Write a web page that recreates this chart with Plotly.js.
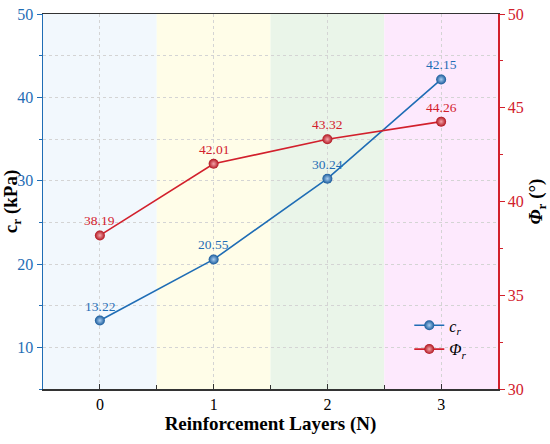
<!DOCTYPE html>
<html><head><meta charset="utf-8">
<script src="https://cdn.plot.ly/plotly-3.0.1.min.js"></script>
<style>html,body{margin:0;padding:0;background:#fff}#chart{width:550px;height:444px}</style>
</head><body><div id="chart"></div>
<script>
const layers = [0, 1, 2, 3];
const layerLabels = ['0', '1', '2', '3'];
const cohesion = [13.22, 20.55, 30.24, 42.15];
const friction = [38.19, 42.01, 43.32, 44.26];
const bandColors = ['#f2f8fd', '#fffde8', '#eaf5e9', '#fde9fd'];

const blue = '#1f6db5';
const red = '#d2202c';
const font = 'Liberation Serif, Times New Roman, serif';

const traces = [
  {x: layers, y: cohesion, yaxis: 'y', name: '<i>c<sub>r</sub></i>', mode: 'lines+markers',
   line: {color: blue, width: 1.6},
   marker: {size: 10, color: '#17599a', gradient: {type: 'radial', color: '#a9cdf0'}, line: {width: 0}}},
  {x: layers, y: friction, yaxis: 'y2', name: '<i>Φ<sub>r</sub></i>', mode: 'lines+markers',
   line: {color: red, width: 1.6},
   marker: {size: 10, color: '#b0141e', gradient: {type: 'radial', color: '#f4a5aa'}, line: {width: 0}}}
];

const labelAnn = (xs, ys, yref, color) => xs.map((x, i) => ({
  x: x, y: ys[i], xref: 'x', yref: yref, text: ys[i].toFixed(2), showarrow: false,
  yanchor: 'bottom', xanchor: 'center', yshift: 5,
  font: {family: font, size: 13.5, color: color}
}));

const shapes = layers.map((v, i) => ({
  type: 'rect', xref: 'x', yref: 'paper', x0: v - 0.5, x1: v + 0.5, y0: 0, y1: 1,
  fillcolor: bandColors[i], line: {width: 0}, layer: 'below'
}));

const layout = {
  width: 550, height: 444,
  margin: {l: 43, r: 52, t: 14, b: 55},
  paper_bgcolor: '#fff', plot_bgcolor: '#fff',
  font: {family: font, size: 16, color: '#000'},
  showlegend: true,
  legend: {x: 0.805, y: 0.215, xanchor: 'left', yanchor: 'top', bgcolor: 'rgba(0,0,0,0)',
           font: {family: font, size: 16}, tracegroupgap: 2},
  shapes: shapes,
  annotations: labelAnn(layers, cohesion, 'y', blue).concat(labelAnn(layers, friction, 'y2', red)),
  xaxis: {
    range: [-0.5, 3.5], tickvals: layers, ticktext: layerLabels,
    showline: true, linecolor: '#333', linewidth: 1.5, mirror: true,
    ticks: 'inside', ticklen: 5, tickcolor: '#333',
    minor: {dtick: 0.5, tick0: 0.5, ticks: 'inside', ticklen: 4, tickcolor: '#333', showgrid: false},
    showgrid: true, gridcolor: '#d4d4d4', griddash: 'dot', gridwidth: 1,
    zeroline: false, tickfont: {family: font, size: 16, color: '#000'},
    title: {text: '<b>Reinforcement Layers (N)</b>', font: {family: font, size: 19, color: '#000'}, standoff: 5}
  },
  yaxis: {
    range: [5, 50], dtick: 10, tick0: 10,
    showline: true, linecolor: blue, linewidth: 1.5,
    ticks: 'outside', ticklen: 5, tickcolor: blue,
    minor: {dtick: 5, tick0: 5, ticks: 'outside', ticklen: 3, tickcolor: blue,
            showgrid: true, gridcolor: '#d4d4d4', griddash: 'dot', gridwidth: 1},
    showgrid: true, gridcolor: '#d4d4d4', griddash: 'dot', gridwidth: 1,
    zeroline: false, tickfont: {family: font, size: 16, color: blue},
    title: {text: '<b>c<sub>r</sub> (kPa)</b>', font: {family: font, size: 19, color: '#000'}, standoff: 3}
  },
  yaxis2: {
    overlaying: 'y', side: 'right', range: [30, 50], dtick: 5, tick0: 30,
    showline: true, linecolor: red, linewidth: 1.5,
    ticks: 'outside', ticklen: 5, tickcolor: red,
    minor: {dtick: 2.5, ticks: 'outside', ticklen: 3, tickcolor: red, showgrid: false},
    showgrid: false, zeroline: false, tickfont: {family: font, size: 16, color: red},
    title: {text: '<b><i>Φ</i><sub>r</sub> (°)</b>', font: {family: font, size: 19, color: '#000'}, standoff: 6}
  }
};

Plotly.newPlot('chart', traces, layout, {displayModeBar: false, staticPlot: true});
</script></body></html>
